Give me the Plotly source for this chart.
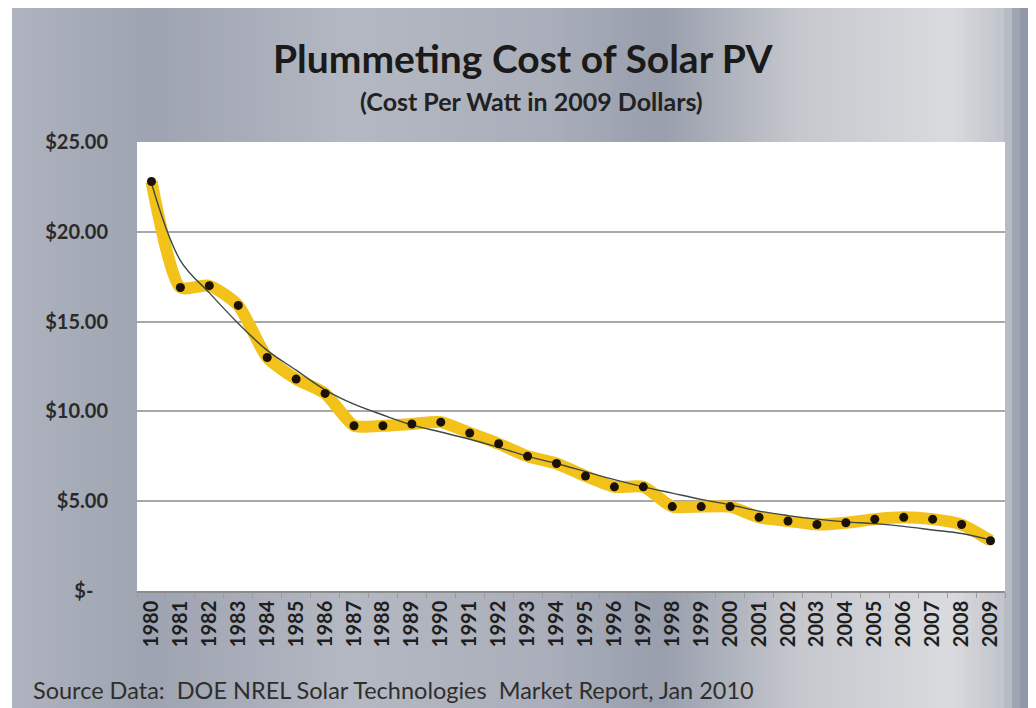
import plotly.graph_objects as go

years = [str(y) for y in range(1980, 2010)]

cost_per_watt = [22.8, 16.9, 17.0, 15.9, 13.0, 11.8, 11.0, 9.2, 9.2, 9.3,
                 9.4, 8.8, 8.2, 7.5, 7.1, 6.4, 5.8, 5.8, 4.7, 4.7,
                 4.7, 4.1, 3.9, 3.7, 3.8, 4.0, 4.1, 4.0, 3.7, 2.8]

trend = [22.7, 18.4, 16.6, 14.9, 13.4, 12.3, 11.2, 10.4, 9.8, 9.25,
         8.85, 8.45, 8.0, 7.5, 7.1, 6.65, 6.2, 5.8, 5.45, 5.1,
         4.8, 4.45, 4.2, 4.0, 3.85, 3.75, 3.6, 3.4, 3.2, 2.85]

y_ticks = [0, 5, 10, 15, 20, 25]
y_labels = ["$-\u00a0\u00a0\u00a0", "$5.00", "$10.00", "$15.00", "$20.00", "$25.00"]

# page body has an 8px margin, so the figure is drawn 8px smaller and shifted
OFF = 8
W, H = 1036 - OFF, 708 - OFF
# plot area in window pixels
L, R, T, B = 137, 1005, 142, 591

def px_x(x):
    return (x - L) / (R - L)

def px_y(y):
    return (B - y) / (B - T)

# chrome-ish background, approximated with vertical stripes
stops = [(0, (176, 181, 192)), (150, (158, 163, 177)), (350, (180, 184, 194)),
         (550, (170, 174, 186)), (660, (152, 158, 172)), (800, (198, 200, 206)),
         (950, (218, 219, 222)), (1005, (192, 195, 202)), (1022, (140, 148, 164)),
         (1036, (168, 173, 184))]

def col_at(x):
    for (x0, c0), (x1, c1) in zip(stops, stops[1:]):
        if x0 <= x <= x1:
            t = (x - x0) / (x1 - x0)
            return "rgb(%d,%d,%d)" % tuple(round(a + (b - a) * t) for a, b in zip(c0, c1))
    return "rgb(%d,%d,%d)" % stops[-1][1]

shapes = []
step = 8
for x in range(12, 1036, step):
    shapes.append(dict(type="rect", xref="paper", yref="paper",
                       x0=px_x(x), x1=px_x(min(x + step + 1, 1036)),
                       y0=px_y(708), y1=px_y(8),
                       fillcolor=col_at(x + step / 2), line_width=0, layer="below"))
# white plot area
shapes.append(dict(type="rect", xref="paper", yref="paper", x0=0, x1=1, y0=0, y1=1,
                   fillcolor="white", line_width=0, layer="below"))

fig = go.Figure()
fig.add_trace(go.Scatter(x=years, y=cost_per_watt, mode="lines",
                         line=dict(color="#F2C21A", width=12, shape="spline", smoothing=0.6),
                         hoverinfo="skip", showlegend=False))
fig.add_trace(go.Scatter(x=years, y=trend, mode="lines",
                         line=dict(color="#3c4a44", width=1.4, shape="spline"),
                         showlegend=False))
fig.add_trace(go.Scatter(x=years, y=cost_per_watt, mode="markers",
                         marker=dict(color="#1a1208", size=9),
                         showlegend=False))

fig.update_layout(
    width=W, height=H,
    margin=dict(l=L - OFF, r=W - (R - OFF), t=T - OFF, b=H - (B - OFF), autoexpand=False),
    paper_bgcolor="white", plot_bgcolor="rgba(0,0,0,0)",
    shapes=shapes,
    font=dict(family="Lato", color="#2a2a2a"),
    annotations=[
        dict(text="<b>Plummeting Cost of Solar PV</b>", xref="paper", yref="paper",
             x=px_x(523), y=px_y(58), xanchor="center", yanchor="middle",
             showarrow=False, font=dict(size=39, color="#1a1a1a")),
        dict(text="<b>(Cost Per Watt in 2009 Dollars)</b>", xref="paper", yref="paper",
             x=px_x(531), y=px_y(101), xanchor="center", yanchor="middle",
             showarrow=False, font=dict(size=25, color="#222")),
        dict(text="Source Data:  DOE NREL Solar Technologies  Market Report, Jan 2010",
             xref="paper", yref="paper", x=px_x(31), y=px_y(690), xanchor="left",
             yanchor="middle", showarrow=False, font=dict(size=23.5, color="#2e2e2e")),
    ],
)

fig.update_xaxes(type="category", categoryorder="array", categoryarray=years,
                 range=[-0.5, len(years) - 0.5],
                 tickangle=-90, tickfont=dict(size=20, family="Lato", color="#1e1e1e", weight="bold"),
                 showline=True, linecolor="#8c8c8c", linewidth=1.5,
                 ticks="outside", tickson="boundaries", ticklen=5, tickcolor="#9a9a9a",
                 showgrid=False, automargin=False)
fig.update_yaxes(range=[0, 25], tickvals=y_ticks, ticktext=y_labels,
                 tickfont=dict(size=20, family="Lato", color="#2a2a2a", weight="bold"),
                 showgrid=True, gridcolor="#a8a8a8", gridwidth=1.5,
                 zeroline=False, showline=False, ticklabelstandoff=28, automargin=False)

fig.write_html("out.html")
